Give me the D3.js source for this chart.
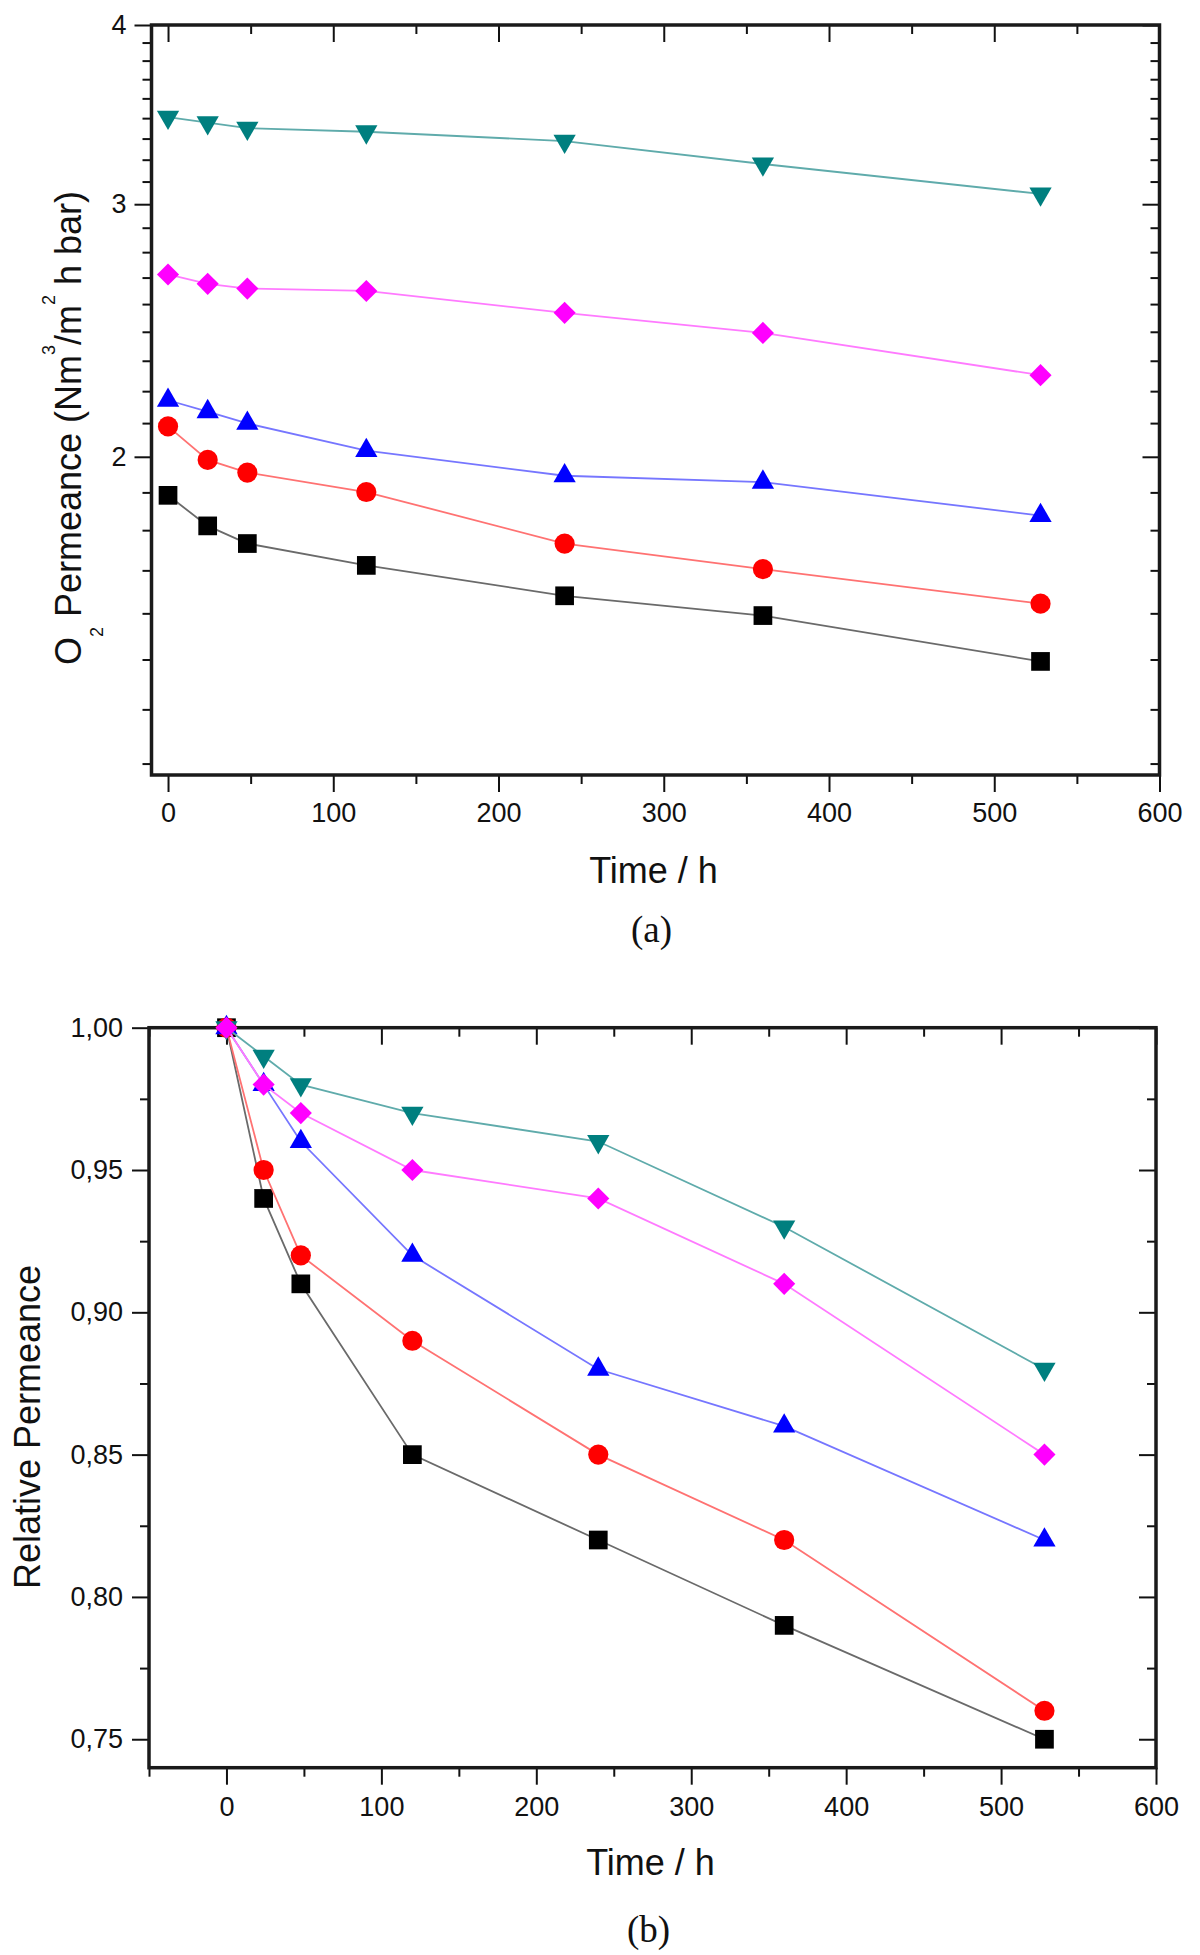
<!DOCTYPE html>
<html>
<head>
<meta charset="utf-8">
<script src="https://cdn.jsdelivr.net/npm/d3@7"></script>
<style>
  body { margin: 0; background: #fff; }
  text { font-family: "Liberation Sans", Arial, sans-serif; fill: #111; }
</style>
</head>
<body>
<div id="chart"></div>
<script>
// sampling times in hours, shared by both panels
const times = [0, 24, 48, 120, 240, 360, 528];

// (a) O2 permeance, Nm3/(m2 h bar)
const permSquare = [1.88, 1.79, 1.74, 1.68, 1.60, 1.55, 1.44];
const permCircle = [2.10, 1.99, 1.95, 1.89, 1.74, 1.67, 1.58];
const permTriUp = [2.19, 2.15, 2.11, 2.02, 1.94, 1.92, 1.82];
const permTriDown = [3.45, 3.42, 3.39, 3.37, 3.32, 3.20, 3.05];
const permDiamond = [2.68, 2.64, 2.62, 2.61, 2.52, 2.44, 2.28];

// (b) relative permeance
const relSquare = [1.00, 0.94, 0.91, 0.85, 0.82, 0.79, 0.75];
const relCircle = [1.00, 0.95, 0.92, 0.89, 0.85, 0.82, 0.76];
const relTriUp = [1.00, 0.98, 0.96, 0.92, 0.88, 0.86, 0.82];
const relTriDown = [1.00, 0.99, 0.98, 0.97, 0.96, 0.93, 0.88];
const relDiamond = [1.00, 0.98, 0.97, 0.95, 0.94, 0.91, 0.85];

// tick labels
const timeTicks = [0, 100, 200, 300, 400, 500, 600];
const permTicks = [2, 3, 4];
const relTicks = [0.75, 0.80, 0.85, 0.90, 0.95, 1.00];

const width = 1200;
const height = 1955;

// marker / line look for each series (drawn in this order)
const styles = [
	{ fill: "#000000", line: "#6a6a6a", type: d3.symbolSquare, size: 350, rotate: 0 },
	{ fill: "#ff0000", line: "#ff7272", type: d3.symbolCircle, size: 320, rotate: 0 },
	{ fill: "#0000ff", line: "#7676ff", type: d3.symbolTriangle, size: 215, rotate: 0 },
	{ fill: "#007f7f", line: "#5fabab", type: d3.symbolTriangle, size: 215, rotate: 180 },
	{ fill: "#ff00ff", line: "#ff7aff", type: d3.symbolSquare, size: 245, rotate: 45 },
];

const svg = d3
	.select("#chart")
	.append("svg")
	.attr("width", width)
	.attr("height", height)
	.style("background", "#fff");

const commaFormat = d3
	.formatLocale({ decimal: ",", thousands: ".", grouping: [3], currency: ["", ""] })
	.format(".2f");

function addAxis(g, axisFn, scale, values, size, translate, fmt, pad) {
	const a = axisFn(scale).tickValues(values).tickSizeInner(size).tickSizeOuter(0);
	if (fmt) a.tickFormat(fmt).tickPadding(pad);
	else a.tickFormat("");
	const sel = g.append("g").attr("transform", translate).call(a);
	sel.select(".domain").remove();
	sel.selectAll(".tick line").attr("stroke", "#111").attr("stroke-width", 2);
	sel.selectAll(".tick text")
		.attr("font-size", 27)
		.attr("font-family", '"Liberation Sans", Arial, sans-serif')
		.attr("fill", "#111");
	return sel;
}

function drawPanel(p) {
	const x = p.x.range([p.left, p.right]);
	const y = p.y.range([p.bottom, p.top]);
	const g = svg.append("g");

	const xMinor = d3.range(-50, 600, 100).filter((v) => v >= x.domain()[0]);

	// bottom + left: outward ticks with labels
	addAxis(g, d3.axisBottom, x, xMinor, 9, `translate(0,${p.bottom})`);
	addAxis(g, d3.axisBottom, x, timeTicks, 17, `translate(0,${p.bottom})`, d3.format("d"), p.xPad);
	addAxis(g, d3.axisLeft, y, p.yMinor, 9, `translate(${p.left},0)`);
	addAxis(g, d3.axisLeft, y, p.yTicks, 17, `translate(${p.left},0)`, p.yFormat, p.yPad);

	// top + right: inward ticks, no labels
	addAxis(g, d3.axisTop, x, xMinor, -9, `translate(0,${p.top})`);
	addAxis(g, d3.axisTop, x, timeTicks, -17, `translate(0,${p.top})`);
	addAxis(g, d3.axisRight, y, p.yMinor, -9, `translate(${p.right},0)`);
	addAxis(g, d3.axisRight, y, p.yTicks, -17, `translate(${p.right},0)`);

	g.append("rect")
		.attr("x", p.left)
		.attr("y", p.top)
		.attr("width", p.right - p.left)
		.attr("height", p.bottom - p.top)
		.attr("fill", "none")
		.attr("stroke", "#1a1a1a")
		.attr("stroke-width", 3.5);

	const line = d3
		.line()
		.x((d) => x(d[0]))
		.y((d) => y(d[1]));

	p.series.forEach((values, i) => {
		const s = styles[i];
		const pts = times.map((t, j) => [t, values[j]]);
		g.append("path")
			.attr("d", line(pts))
			.attr("fill", "none")
			.attr("stroke", s.line)
			.attr("stroke-width", 1.8);
		g.selectAll(null)
			.data(pts)
			.enter()
			.append("path")
			.attr("d", d3.symbol().type(s.type).size(s.size))
			.attr("transform", (d) => `translate(${x(d[0])},${y(d[1])}) rotate(${s.rotate})`)
			.attr("fill", s.fill);
	});

	// axis titles
	g.append("text")
		.attr("x", (p.left + p.right) / 2 - 2)
		.attr("y", p.xTitleY)
		.attr("text-anchor", "middle")
		.attr("font-size", 36)
		.text("Time / h");

	g.append("text")
		.attr("x", (p.left + p.right) / 2 - 4)
		.attr("y", p.panelY)
		.attr("text-anchor", "middle")
		.attr("font-size", 37)
		.style("font-family", '"Liberation Serif", "Times New Roman", serif')
		.text(p.panel);

	return g;
}

// minor ticks on the log axis: nine equal steps between whole numbers
const permMinor = [];
[1, 2, 3].forEach((m) => {
	d3.range(1, 9).forEach((k) => {
		const v = m + k / 9;
		if (v > 1.2 && v < 4) permMinor.push(v);
	});
});

const gA = drawPanel({
	top: 25,
	bottom: 775,
	left: 151.5,
	right: 1159.5,
	x: d3.scaleLinear().domain([-10, 600]),
	y: d3.scaleLog().domain([1.2, 4]),
	yTicks: permTicks,
	yMinor: permMinor,
	yFormat: d3.format("d"),
	xPad: 11,
	yPad: 8,
	series: [permSquare, permCircle, permTriUp, permTriDown, permDiamond],
	xTitleY: 883,
	panelY: 942,
	panel: "(a)",
});

// y title for (a) with sub/superscripts
const titleA = gA
	.append("text")
	.attr("transform", "translate(81,428) rotate(-90)")
	.attr("text-anchor", "middle")
	.attr("font-size", 36);
titleA.append("tspan").text("O");
titleA.append("tspan").attr("font-size", 18).attr("dy", 22).text("2");
titleA.append("tspan").attr("dy", -22).text(" Permeance (Nm");
titleA.append("tspan").attr("font-size", 18).attr("dy", -26).text("3");
titleA.append("tspan").attr("dy", 26).text("/m");
titleA.append("tspan").attr("font-size", 18).attr("dy", -26).text("2");
titleA.append("tspan").attr("dy", 26).text(" h bar)");

const gB = drawPanel({
	top: 1027.7,
	bottom: 1767.7,
	left: 149,
	right: 1156,
	x: d3.scaleLinear().domain([-50, 600]),
	y: d3.scaleLinear().domain([0.74, 1.0]),
	yTicks: relTicks,
	yMinor: d3.range(0.775, 1, 0.05),
	yFormat: commaFormat,
	xPad: 12,
	yPad: 9,
	series: [relSquare, relCircle, relTriUp, relTriDown, relDiamond],
	xTitleY: 1875,
	panelY: 1942,
	panel: "(b)",
});

gB.append("text")
	.attr("transform", "translate(40,1427) rotate(-90)")
	.attr("text-anchor", "middle")
	.attr("font-size", 36)
	.text("Relative Permeance");
</script>
</body>
</html>
